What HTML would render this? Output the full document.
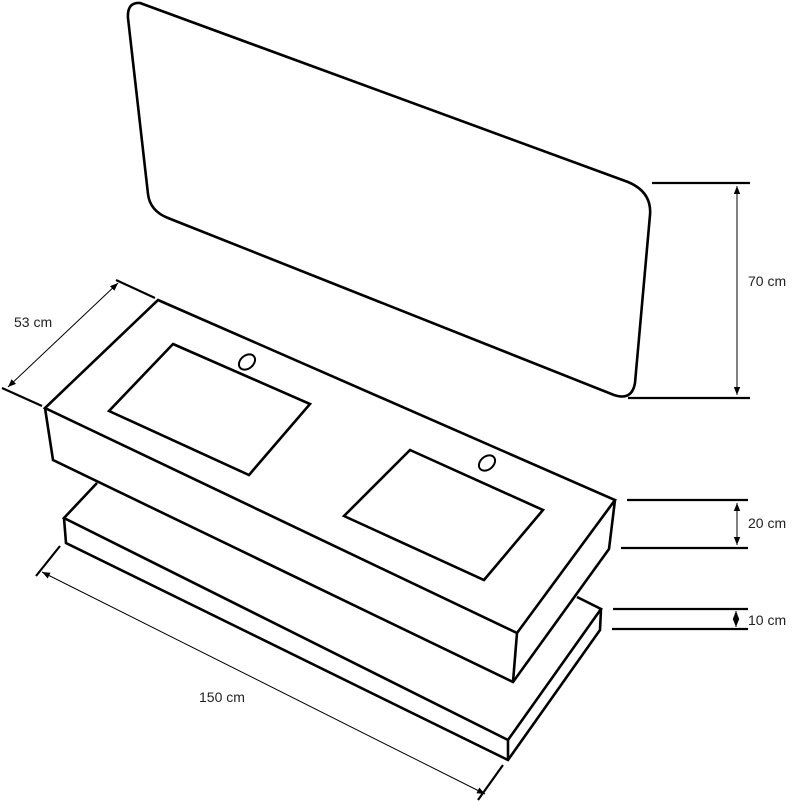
<!DOCTYPE html>
<html><head><meta charset="utf-8"><style>
html,body{margin:0;padding:0;background:#fff;width:794px;height:801px;overflow:hidden}
svg{display:block}
text{font-family:"Liberation Sans",Arial,sans-serif;font-size:14px;fill:#222}
</style></head><body>
<svg width="794" height="801" viewBox="0 0 794 801" xmlns="http://www.w3.org/2000/svg">
<defs>
<marker id="a" viewBox="0 0 10 10" refX="10" refY="5" markerWidth="8" markerHeight="8" orient="auto-start-reverse"><path d="M0,1 L10,5 L0,9 z" fill="#000"/></marker>
</defs>
<g fill="none" stroke="#000" stroke-width="2.6" stroke-linejoin="miter">
<!-- mirror -->
<path d="M140,3 L628,182 Q652,192 650,215 L635,383 Q632,401 614,395 L168,218 Q150,211 148,194 L128,18 Q127,2 140,3 Z"/>
<!-- bottom slab -->
<path d="M97,483 L64,518 L508,740 L601,609 L577,597"/>
<path d="M64,518 L66,543 L508,760 L600,630 L601,609"/>
<path d="M508,740 L508,760"/>
<!-- top slab -->
<path d="M158,300 L615,500 L517,633 L45,408 Z" fill="#fff"/>
<path d="M45,408 L53,460 L513,682 L609,549 L615,500"/>
<path d="M517,633 L513,682"/>
<!-- sinks -->
<path d="M173,344 L310,404 L249,475 L109,411 Z"/>
<path d="M410,450 L543,510 L484,580 L344,516 Z"/>
<ellipse cx="247" cy="362" rx="9" ry="6.5" transform="rotate(-40 247 362)" stroke-width="2"/>
<ellipse cx="487" cy="463" rx="9" ry="6.5" transform="rotate(-40 487 463)" stroke-width="2"/>
<!-- dimension extension lines -->
<path d="M652,183 L750,183 M628,398 L750,398 M627,500 L748,500 M621,548 L748,548 M613,609 L748,609 M612,629 L748,629" stroke-width="2.2"/>
<path d="M116,280 L155,298 M2,388 L42,406 M60,546 L36,576 M503,765 L478,800" stroke-width="2.2"/>
</g>
<g stroke="#000" stroke-width="1" fill="none">
<line x1="737" y1="186" x2="737" y2="395" marker-start="url(#a)" marker-end="url(#a)"/>
<line x1="737" y1="503" x2="737" y2="545" marker-start="url(#a)" marker-end="url(#a)"/>
<line x1="736" y1="611" x2="736" y2="627" marker-start="url(#a)" marker-end="url(#a)"/>
<line x1="118" y1="283" x2="8" y2="387" marker-start="url(#a)" marker-end="url(#a)"/>
<line x1="42" y1="572" x2="485" y2="794" marker-start="url(#a)" marker-end="url(#a)"/>
</g>
<text x="748" y="286">70 cm</text>
<text x="748" y="528">20 cm</text>
<text x="748" y="625">10 cm</text>
<text x="14" y="327">53 cm</text>
<text x="199" y="702">150 cm</text>
</svg>
</body></html>
